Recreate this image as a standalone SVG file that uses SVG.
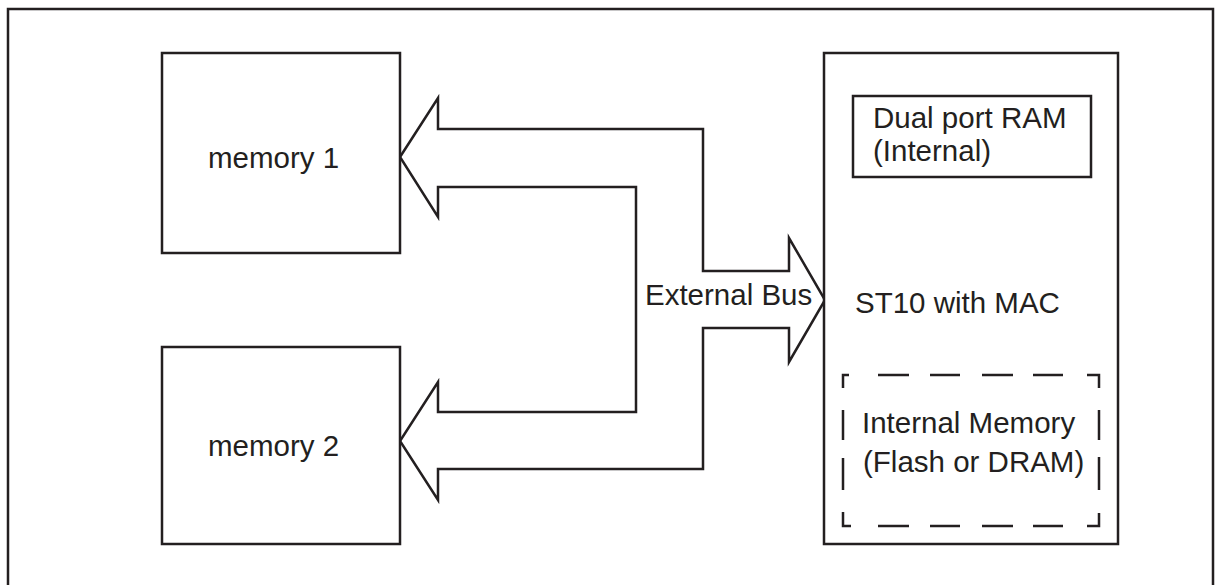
<svg xmlns="http://www.w3.org/2000/svg" width="1215" height="585" viewBox="0 0 1215 585">
  <style>
    .box { fill: #ffffff; stroke: #231f20; stroke-width: 2.5; }
    .line { fill: none; stroke: #231f20; stroke-width: 2.5; }
    .dash { fill: none; stroke: #231f20; stroke-width: 2.5; }
    .lbl { font-family: "Liberation Sans", Arial, sans-serif; font-size: 29.5px; fill: #231f20; }
  </style>
  <rect x="0" y="0" width="1215" height="585" fill="#ffffff"/>
  <g id="frame">
    <path class="line" d="M8,586 L8,9 L1213,9 L1213,586"/>
  </g>
  <g id="connectors">
    <path id="external-bus" class="box" d="M400,157 L438,98 L438,129 L703,129 L703,271 L789,271 L789,238 L825,300 L789,362 L789,328 L703,328 L703,469 L438,469 L438,500 L400,441 L438,382 L438,412 L636,412 L636,187 L438,187 L438,217 Z"/>
    <text class="lbl" x="645" y="305">External Bus</text>
  </g>
  <g id="memory1">
    <rect class="box" x="162" y="53" width="238" height="200"/>
    <text class="lbl" x="208" y="168">memory 1</text>
  </g>
  <g id="memory2">
    <rect class="box" x="162" y="347" width="238" height="197"/>
    <text class="lbl" x="208" y="456">memory 2</text>
  </g>
  <g id="st10">
    <rect class="box" x="824" y="53" width="294" height="491"/>
    <text class="lbl" x="855" y="313">ST10 with MAC</text>
  </g>
  <g id="dual-port-ram">
    <rect class="box" x="853" y="96" width="238" height="81"/>
    <text class="lbl" x="873" y="128">Dual port RAM</text>
    <text class="lbl" x="873" y="161">(Internal)</text>
  </g>
  <g id="internal-memory">
    <path class="dash" d="M843,388 L843,375 L849,375 M878,375 L909,375 M930,375 L960,375 M982,375 L1013,375 M1033,375 L1063,375 M1087,375 L1099,375 L1099,388 M843,410 L843,440 M843,458 L843,490 M843,512 L843,526 L851,526 M878,526 L909,526 M930,526 L960,526 M982,526 L1013,526 M1033,526 L1063,526 M1087,526 L1099,526 L1099,513 M1099,410 L1099,440 M1099,457 L1099,490"/>
    <text class="lbl" x="862" y="433">Internal Memory</text>
    <text class="lbl" x="863" y="472">(Flash or DRAM)</text>
  </g>
</svg>
